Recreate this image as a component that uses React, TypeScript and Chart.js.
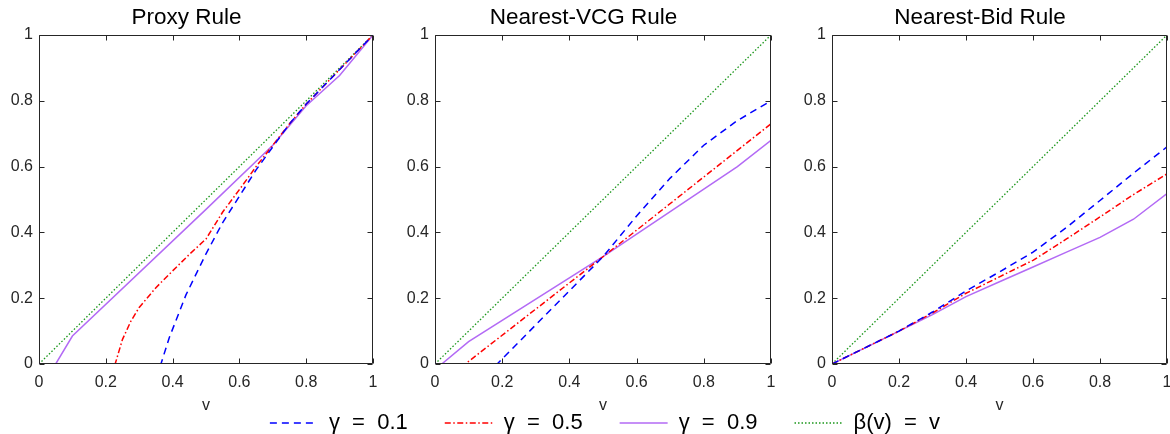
import React, { useEffect, useRef } from 'react';
import { Chart, registerables } from 'chart.js';

Chart.register(...registerables);

// ---------- data ----------
const tickValues = [0, 0.2, 0.4, 0.6, 0.8, 1];
const tickLabels = ['0', '0.2', '0.4', '0.6', '0.8', '1'];
const panelTitles = ['Proxy Rule', 'Nearest-VCG Rule', 'Nearest-Bid Rule'];
const seriesLabels = ['γ  =  0.1', 'γ  =  0.5', 'γ  =  0.9', 'β(v)  =  v'];
const axisLabel = 'v';

// Proxy Rule
const proxyBlueV = [0, 0.365, 0.39, 0.44, 0.5, 0.55, 0.6, 0.65, 0.7, 0.75, 0.8, 0.9, 1];
const proxyBlueY = [0, 0, 0.08, 0.21, 0.335, 0.43, 0.51, 0.59, 0.66, 0.73, 0.79, 0.895, 1];
const proxyRedV = [0, 0.228, 0.25, 0.275, 0.3, 0.35, 0.4, 0.45, 0.5, 0.55, 0.6, 0.65, 0.7, 0.75, 0.8, 0.9, 1];
const proxyRedY = [0, 0, 0.075, 0.13, 0.172, 0.232, 0.283, 0.333, 0.38, 0.462, 0.53, 0.6, 0.665, 0.73, 0.79, 0.895, 1];
const proxyPurpleV = [0, 0.05, 0.1, 0.5, 0.7, 0.8, 0.9, 1];
const proxyPurpleY = [0, 0, 0.085, 0.47, 0.665, 0.785, 0.877, 1];
const proxyGreenV = [0, 1];
const proxyGreenY = [0, 1];

// Nearest-VCG Rule
const vcgBlueV = [0, 0.185, 0.5, 0.6, 0.7, 0.8, 0.9, 1];
const vcgBlueY = [0, 0, 0.326, 0.45, 0.565, 0.665, 0.74, 0.8];
const vcgRedV = [0, 0.09, 0.5, 1];
const vcgRedY = [0, 0, 0.326, 0.73];
const vcgPurpleV = [0, 0.02, 0.1, 0.5, 0.9, 1];
const vcgPurpleY = [0, 0, 0.068, 0.326, 0.6, 0.68];
const vcgGreenV = [0, 1];
const vcgGreenY = [0, 1];

// Nearest-Bid Rule
const bidV = [0, 0.1, 0.2, 0.3, 0.4, 0.5, 0.6, 0.7, 0.8, 0.9, 1];
const bidBlueY = [0, 0.05, 0.1, 0.158, 0.222, 0.28, 0.34, 0.415, 0.497, 0.58, 0.66];
const bidRedY = [0, 0.05, 0.1, 0.155, 0.215, 0.265, 0.315, 0.38, 0.447, 0.515, 0.578];
const bidPurpleY = [0, 0.05, 0.1, 0.15, 0.205, 0.25, 0.295, 0.34, 0.385, 0.44, 0.518];
const bidGreenV = [0, 1];
const bidGreenY = [0, 1];

// ---------- styles ----------
const FONT = '"Liberation Sans", Arial, Helvetica, sans-serif';
const AXIS_COLOR = '#262626';
const seriesStyles = [
  { color: '#0000ff', dash: [7, 5], width: 1.5 },
  { color: '#ff0000', dash: [6, 2.5, 1.5, 2.5], width: 1.5 },
  { color: '#b36af5', dash: [] as number[], width: 1.5 },
  { color: '#1a961a', dash: [1.5, 2], width: 1.3 },
];

const panelSeries: [number[], number[]][][] = [
  [
    [proxyBlueV, proxyBlueY],
    [proxyRedV, proxyRedY],
    [proxyPurpleV, proxyPurpleY],
    [proxyGreenV, proxyGreenY],
  ],
  [
    [vcgBlueV, vcgBlueY],
    [vcgRedV, vcgRedY],
    [vcgPurpleV, vcgPurpleY],
    [vcgGreenV, vcgGreenY],
  ],
  [
    [bidV, bidBlueY],
    [bidV, bidRedY],
    [bidV, bidPurpleY],
    [bidGreenV, bidGreenY],
  ],
];

// layout
const Y_AXIS_W = 39;
const panelLefts = [0, 396, 793];
const plotWidths = [334, 336, 335];
const PANEL_H = 420;

const boxTicksPlugin = {
  id: 'boxTicks',
  afterDraw(chart: any) {
    const { ctx, chartArea } = chart;
    const xs = chart.scales.x;
    const ys = chart.scales.y;
    const l = Math.round(chartArea.left) + 0.5;
    const r = Math.round(chartArea.right) - 0.5;
    const t = Math.round(chartArea.top) + 0.5;
    const b = Math.round(chartArea.bottom) - 0.5;
    const len = 5;
    ctx.save();
    ctx.strokeStyle = AXIS_COLOR;
    ctx.lineWidth = 1;
    ctx.setLineDash([]);
    ctx.beginPath();
    ctx.rect(l, t, r - l, b - t);
    xs.ticks.forEach((tk: any) => {
      const px = Math.round(xs.getPixelForValue(tk.value)) + 0.5;
      ctx.moveTo(px, b);
      ctx.lineTo(px, b - len);
      ctx.moveTo(px, t);
      ctx.lineTo(px, t + len);
    });
    ys.ticks.forEach((tk: any) => {
      const py = Math.round(ys.getPixelForValue(tk.value)) + 0.5;
      ctx.moveTo(l, py);
      ctx.lineTo(l + len, py);
      ctx.moveTo(r, py);
      ctx.lineTo(r - len, py);
    });
    ctx.stroke();
    ctx.restore();
  },
};

function Panel({ idx }: { idx: number }) {
  const ref = useRef<HTMLCanvasElement>(null);
  const width = Y_AXIS_W + plotWidths[idx] + Y_AXIS_W;
  useEffect(() => {
    const datasets = panelSeries[idx].map(([vs, ys], i) => ({
      label: seriesLabels[i],
      data: vs.map((v, j) => ({ x: v, y: ys[j] })),
      borderColor: seriesStyles[i].color,
      backgroundColor: seriesStyles[i].color,
      borderWidth: seriesStyles[i].width,
      borderDash: seriesStyles[i].dash,
      pointRadius: 0,
      tension: 0,
      fill: false,
    }));
    const setTicks = (axis: any) => {
      axis.ticks = tickValues.map((v) => ({ value: v }));
    };
    const chart = new Chart(ref.current as HTMLCanvasElement, {
      type: 'line',
      data: { datasets },
      plugins: [boxTicksPlugin],
      options: {
        responsive: false,
        animation: false,
        events: [],
        layout: { padding: { left: 0, right: Y_AXIS_W, top: 0, bottom: 0 } },
        plugins: {
          legend: { display: false },
          tooltip: { enabled: false },
          title: {
            display: true,
            text: panelTitles[idx],
            color: '#000000',
            font: { family: FONT, size: 22.5, weight: 'normal' },
            padding: { top: 4, bottom: 4 },
          },
        },
        scales: {
          x: {
            type: 'linear',
            min: 0,
            max: 1,
            afterBuildTicks: setTicks,
            afterFit: (s: any) => {
              s.height = 56;
            },
            grid: { display: false, drawTicks: false },
            border: { display: false },
            ticks: {
              padding: 9,
              color: AXIS_COLOR,
              font: { family: FONT, size: 16 },
              maxRotation: 0,
              callback: (_v: any, i: number) => tickLabels[i],
            },
            title: {
              display: true,
              text: axisLabel,
              color: AXIS_COLOR,
              font: { family: FONT, size: 16 },
              padding: { top: 0, bottom: 5 },
            },
          },
          y: {
            type: 'linear',
            min: 0,
            max: 1,
            afterBuildTicks: setTicks,
            afterFit: (s: any) => {
              s.width = Y_AXIS_W;
            },
            grid: { display: false, drawTicks: false },
            border: { display: false },
            ticks: {
              padding: 6,
              color: AXIS_COLOR,
              font: { family: FONT, size: 16 },
              callback: (_v: any, i: number) => tickLabels[i],
            },
          },
        },
      },
    } as any);
    return () => chart.destroy();
  }, [idx]);
  return (
    <canvas
      ref={ref}
      width={width}
      height={PANEL_H}
      style={{ position: 'absolute', left: panelLefts[idx], top: 0, width, height: PANEL_H }}
    />
  );
}

function LegendStrip() {
  const ref = useRef<HTMLCanvasElement>(null);
  const left = 40;
  const width = 1130;
  const top = 375;
  const height = 240;
  useEffect(() => {
    const datasets = seriesLabels.map((lab, i) => ({
      label: lab,
      data: [] as number[],
      borderColor: seriesStyles[i].color,
      backgroundColor: seriesStyles[i].color,
      borderWidth: seriesStyles[i].width,
      borderDash: seriesStyles[i].dash,
      pointRadius: 0,
    }));
    const chart = new Chart(ref.current as HTMLCanvasElement, {
      type: 'line',
      data: { labels: [], datasets },
      options: {
        responsive: false,
        animation: false,
        events: [],
        layout: { padding: 0 },
        scales: { x: { display: false }, y: { display: false } },
        plugins: {
          tooltip: { enabled: false },
          title: { display: false },
          legend: {
            display: true,
            position: 'top',
            align: 'center',
            labels: {
              usePointStyle: true,
              pointStyle: 'line',
              pointStyleWidth: 48,
              boxHeight: 22,
              padding: 37,
              color: '#000000',
              font: { family: FONT, size: 22 },
              generateLabels: (c: any) =>
                c.data.datasets.map((ds: any, i: number) => ({
                  text: ds.label,
                  fillStyle: ds.borderColor,
                  strokeStyle: ds.borderColor,
                  lineWidth: ds.borderWidth,
                  lineDash: ds.borderDash,
                  lineCap: 'butt',
                  pointStyle: 'line',
                  fontColor: '#000000',
                  hidden: false,
                  datasetIndex: i,
                })),
            },
          },
        },
      },
    } as any);
    return () => chart.destroy();
  }, []);
  return (
    <canvas
      ref={ref}
      width={width}
      height={height}
      style={{ position: 'absolute', left, top, width, height }}
    />
  );
}

export default function App() {
  return (
    <div
      style={{
        position: 'absolute',
        left: 0,
        top: 0,
        width: 1170,
        height: 434,
        overflow: 'hidden',
        background: '#ffffff',
      }}
    >
      <Panel idx={0} />
      <Panel idx={1} />
      <Panel idx={2} />
      <LegendStrip />
    </div>
  );
}
